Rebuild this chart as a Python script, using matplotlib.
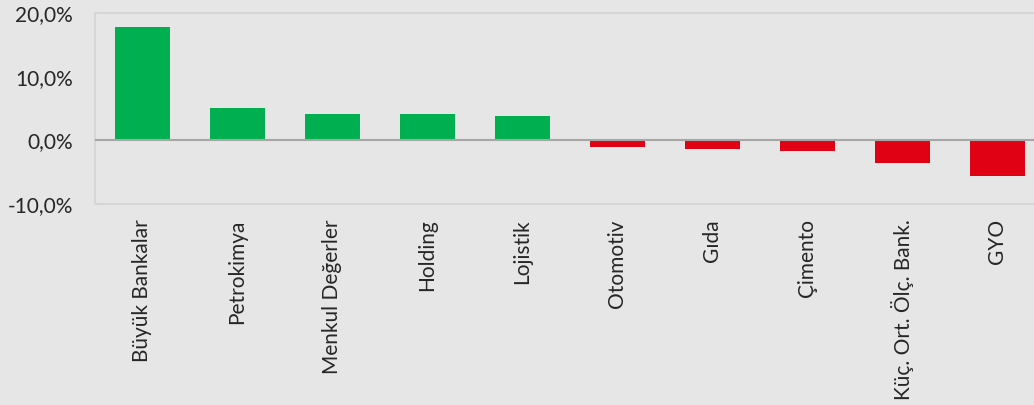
import matplotlib.pyplot as plt
from matplotlib.ticker import FuncFormatter

# sector returns (%)
sectors = ["Büyük Bankalar", "Petrokimya", "Menkul Değerler", "Holding", "Lojistik",
           "Otomotiv", "Gıda", "Çimento", "Küç. Ort. Ölç. Bank.", "GYO"]
returns = [17.9, 5.1, 4.2, 4.2, 3.9, -1.0, -1.4, -1.6, -3.6, -5.6]

GREEN = "#00b050"
RED = "#e00214"
BG = "#e6e6e6"

plt.rcParams['font.family'] = ['Lato', 'DejaVu Sans']

fig = plt.figure(figsize=(10.34, 4.05), dpi=100, facecolor=BG)
ax = fig.add_axes([95 / 1034, 1 - 204 / 405, 950 / 1034, (204 - 13.5) / 405])
ax.set_facecolor(BG)

colors = [GREEN if v >= 0 else RED for v in returns]
x = list(range(len(sectors)))
ax.bar(x, returns, width=0.58, color=colors, zorder=2)

ax.set_xlim(-0.5, len(sectors) - 0.5)
ax.set_ylim(-10, 20)
ax.set_yticks([-10, 0, 10, 20])
ax.yaxis.set_major_formatter(FuncFormatter(lambda v, p: f"{v:.1f}%".replace(".", ",")))
ax.axhline(0, color="#a6a6a6", lw=1.5, zorder=3)

for s in ax.spines.values():
    s.set_color("#d6d6d6")
    s.set_linewidth(1.5)
ax.spines['right'].set_visible(False)

ax.set_xticks(x)
ax.set_xticklabels(sectors, rotation=90, va="top", ha="center")
ax.tick_params(axis="x", length=0, pad=11, labelsize=15, labelcolor="#262626")
ax.tick_params(axis="y", length=0, pad=16, labelsize=15, labelcolor="#262626")

fig.savefig("out.png", dpi=100, facecolor=BG)
